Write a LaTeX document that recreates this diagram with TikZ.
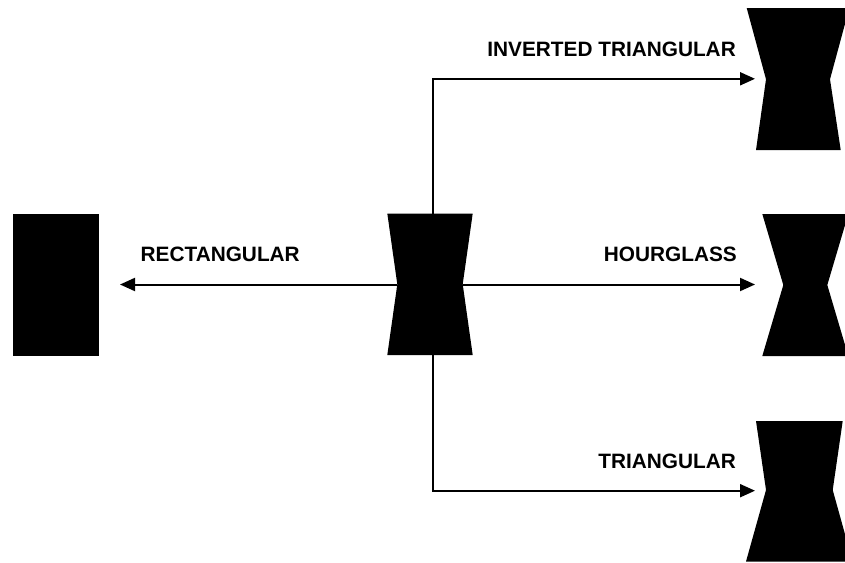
\documentclass[tikz,border=0pt]{standalone}
\usepackage{fontspec}
\setmainfont{Liberation Sans}
\usetikzlibrary{arrows.meta}

\tikzset{
  solid shape/.style={fill=black},
  link/.style={line width=2pt, line join=miter},
  arrowlink/.style={link, -{Triangle[length=15pt,width=13pt]}},
  lbl/.style={font=\bfseries\fontsize{20.8}{24}\selectfont, inner sep=0pt}
}

\begin{document}
\begin{tikzpicture}[x=1pt,y=-1pt]
  \useasboundingbox (0,0) rectangle (845,562);
  \clip (0,0) rectangle (845,562);

  % central hourglass-like profile
  \fill[solid shape] (387.3,213.5) -- (472.7,213.5) -- (462.7,284.3)
    -- (472.7,355) -- (387.3,355) -- (397.3,284.3) -- cycle;
  \coordinate (hubW) at (397.3,284.5);
  \coordinate (hubE) at (462.7,284.5);
  \coordinate (hubN) at (433.3,213.5);
  \coordinate (hubS) at (433.3,355);

  % rectangular profile
  \fill[solid shape] (13.3,214.3) rectangle (99.3,356);
  \coordinate (rectIn) at (120,284.5);

  % inverted triangular profile
  \fill[solid shape] (746.7,8) -- (849.3,8) -- (830,79.3)
    -- (840.7,150) -- (756,150) -- (766,79.3) -- cycle;
  \coordinate (invIn) at (755,78.8);

  % hourglass profile
  \fill[solid shape] (762.3,214) -- (848.3,214) -- (827.3,285)
    -- (848.3,356) -- (762.3,356) -- (783.3,285) -- cycle;
  \coordinate (hourIn) at (755,284.5);

  % triangular profile
  \fill[solid shape] (756,421) -- (842.7,421) -- (832.7,490)
    -- (852.6,561.5) -- (746,561.5) -- (766,490) -- cycle;
  \coordinate (triIn) at (755,490.7);

  % connectors
  \draw[arrowlink] (hubW) -- (rectIn);
  \draw[arrowlink] (hubE) -- (hourIn);
  \draw[arrowlink] (hubN) |- (invIn);
  \draw[arrowlink] (hubS) |- (triIn);

  % labels
  \node[lbl, anchor=base east] (lblInv) at (736,56.7) {INVERTED TRIANGULAR};
  \node[lbl, anchor=base west] (lblRect) at (140.5,261.7) {RECTANGULAR};
  \node[lbl, anchor=base east] (lblHour) at (737,261.7) {HOURGLASS};
  \node[lbl, anchor=base east] (lblTri) at (736,468.3) {TRIANGULAR};
\end{tikzpicture}
\end{document}
